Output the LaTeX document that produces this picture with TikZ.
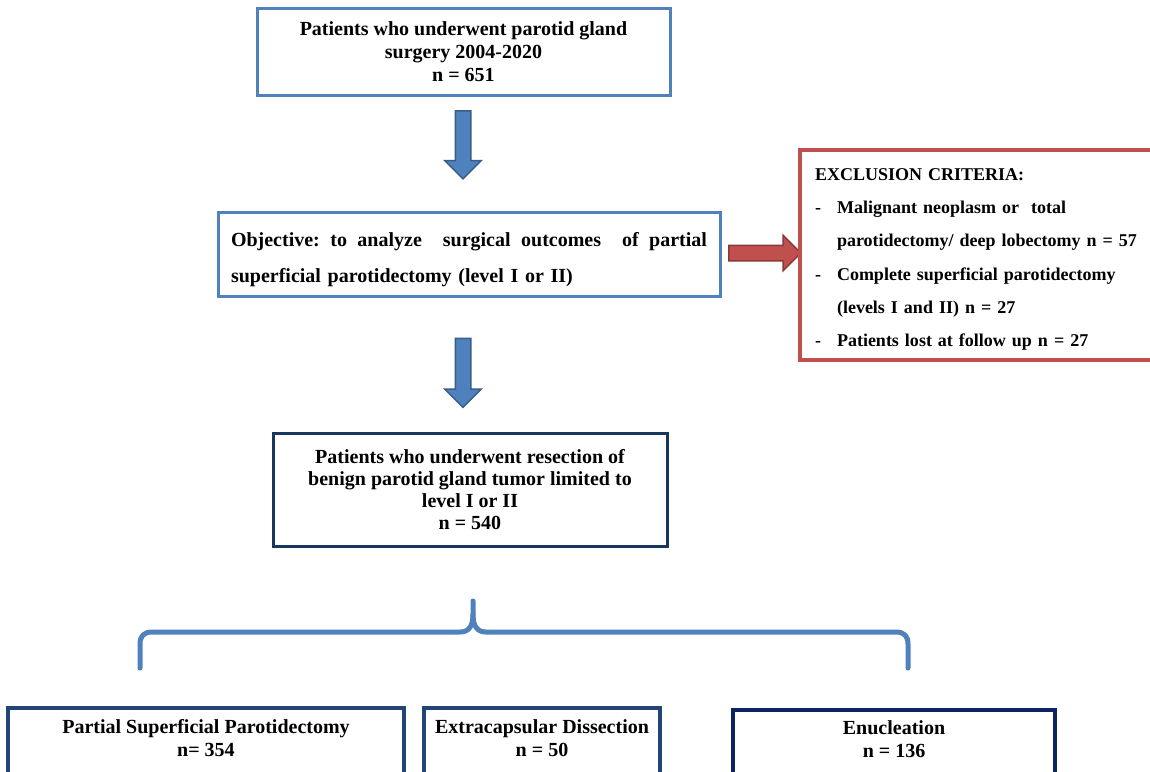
\documentclass[tikz,border=0pt]{standalone}
\usepackage{fontspec}
\setmainfont{Liberation Serif}
\usepackage{tikz}
\usetikzlibrary{shapes,shapes.arrows,shadows}
\definecolor{boxblue}{RGB}{79,129,189}
\definecolor{arrowedge}{RGB}{56,93,138}
\definecolor{boxred}{RGB}{192,80,77}
\definecolor{rededge}{RGB}{140,56,54}
\definecolor{navy}{RGB}{23,55,94}
\definecolor{midnavy}{RGB}{36,68,120}
\definecolor{deepnavy}{RGB}{12,36,98}
\tikzstyle{flowbox}=[rectangle,draw,fill=white,align=center,font=\bfseries\fontsize{20}{23}\selectfont,drop shadow={opacity=0.2,shadow xshift=2pt,shadow yshift=-2pt}]
\tikzstyle{blockarrow}=[single arrow,draw,line width=1.5pt,inner sep=7pt,single arrow head extend=10.5pt]

\begin{document}
\begin{tikzpicture}[x=1pt,y=-1pt]
        \useasboundingbox (0,0) rectangle (1150,771);
        \tikzstyle{bracket}=[draw=boxblue,line width=5pt,line cap=round,line join=round]
        \node[flowbox,draw=boxblue,line width=3pt,minimum width=413pt,minimum height=87pt] (surgery) at (463.5,51.5)
            {Patients who underwent parotid gland\\surgery 2004-2020\\n = 651};
        \node[blockarrow,fill=boxblue,draw=arrowedge,minimum height=68pt,rotate=-90] (arrowA) at (463,141) {};
        \node[flowbox,draw=boxblue,line width=3pt,minimum width=502pt,minimum height=84pt,text width=476pt,align=left,
              font=\bfseries\fontsize{20}{36}\selectfont] (objective) at (469,254)
            {\rule{0pt}{25pt}\hbox to 476pt{Objective:\hfill to\hfill analyze\hfill\hfill surgical\hfill outcomes\hfill\hfill of\hfill partial}\\
             superficial parotidectomy (level I or II)};
        \node[blockarrow,fill=boxred,draw=rededge,minimum height=72pt,single arrow head extend=10pt] (arrowB) at (761,253) {};
        \node[flowbox,draw=boxred,line width=4pt,anchor=north west,outer sep=0pt,minimum width=365pt,minimum height=210pt,
              inner xsep=15pt,text width=335pt,align=left,font=\bfseries\fontsize{18}{33.3}\selectfont] (exclusion) at (800,150)
            {\rule{0pt}{21pt}EXCLUSION CRITERIA:\\
             \makebox[22pt][l]{-}Malignant neoplasm or\ \ total\\
             \hspace*{22pt}parotidectomy/ deep lobectomy n = 57\\
             \makebox[22pt][l]{-}Complete superficial parotidectomy\\
             \hspace*{22pt}(levels I and II) n = 27\\
             \makebox[22pt][l]{-}Patients lost at follow up n = 27};
        \node[blockarrow,fill=boxblue,draw=arrowedge,minimum height=69pt,rotate=-90] (arrowC) at (463,369) {};
        \node[flowbox,draw=navy,line width=3pt,minimum width=394pt,minimum height=113pt,
              font=\bfseries\fontsize{20}{22}\selectfont] (resection) at (470,489.5)
            {Patients who underwent resection of\\benign parotid gland tumor limited to\\level I or II\\n = 540};
        \draw[bracket] (140,668) -- (140,644) .. controls (140,636) and (144,632) .. (152,632) -- (460,632)
            .. controls (469,632) and (473,626) .. (473,614) -- (473,601);
        \draw[bracket] (908,668) -- (908,644) .. controls (908,636) and (904,632) .. (896,632) -- (486,632)
            .. controls (477,632) and (473,626) .. (473,614);
        \node[flowbox,draw=midnavy,line width=4pt,minimum width=396pt,minimum height=70pt] (partial) at (206,743)
            {Partial Superficial Parotidectomy\\n= 354\rule[-10pt]{0pt}{0pt}};
        \node[flowbox,draw=midnavy,line width=4pt,minimum width=236pt,minimum height=70pt] (extracapsular) at (542,743)
            {Extracapsular Dissection\\n = 50\rule[-10pt]{0pt}{0pt}};
        \node[flowbox,draw=deepnavy,line width=4pt,minimum width=322pt,minimum height=68pt] (enucleation) at (894,744)
            {Enucleation\\n = 136\rule[-10pt]{0pt}{0pt}};
\end{tikzpicture}
\end{document}
